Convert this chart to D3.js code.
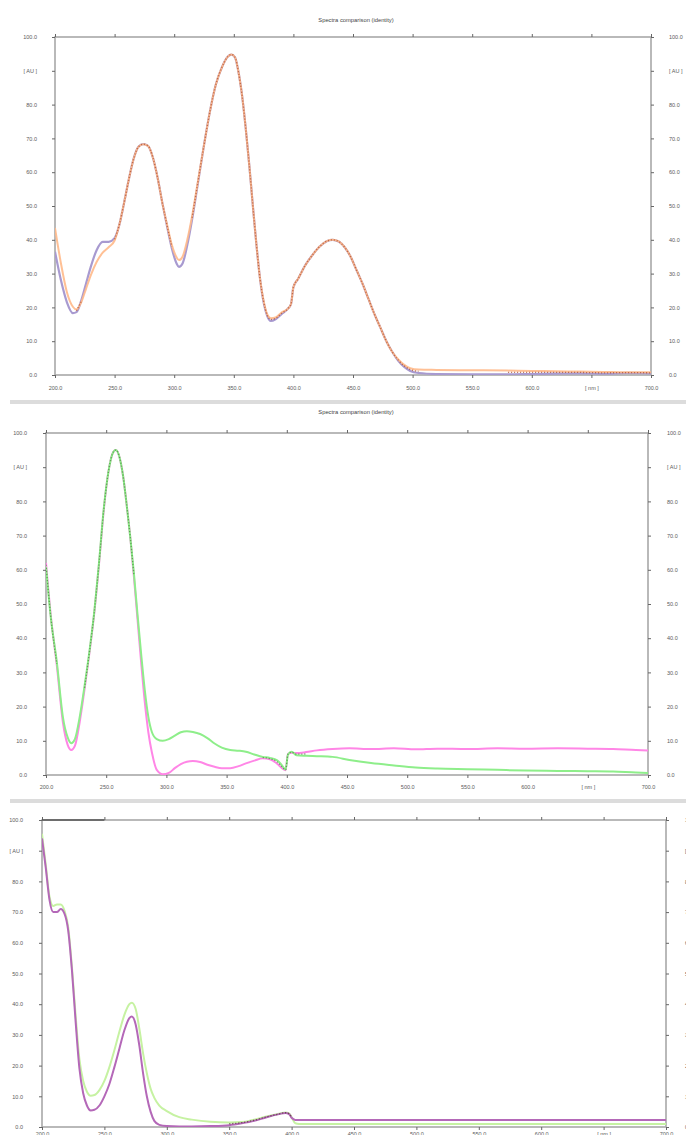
<!DOCTYPE html>
<html><head><meta charset="utf-8">
<script src="https://cdn.jsdelivr.net/npm/d3@7"></script>
<style>body{margin:0;background:#fff}svg{display:block}text{font-family:"Liberation Sans",Arial,sans-serif}</style>
</head><body>
<svg id="c" width="686" height="1135"></svg>
<script>
const chartTitle = "Spectra comparison (identity)";
const xTickValues = [200,250,300,350,400,450,500,550,600,650,700];
const xTickLabels = ["200.0","250.0","300.0","350.0","400.0","450.0","500.0","550.0","600.0","[ nm ]","700.0"];
const yTickValues = [0,10,20,30,40,50,60,70,80,90,100];
const yTickLabels = ["0.0","10.0","20.0","30.0","40.0","50.0","60.0","70.0","80.0","[ AU ]","100.0"];

// Panel 1
const p1Wl = [200,205,210,215,218,222,226,230,235,240,245,250,254,258,262,266,270,274,278,282,286,290,294,298,302,304,307,311,315,320,325,330,335,340,345,348,351,354,357,360,363,366,369,372,375,378,381,385,390,395,398,400,404,410,416,422,428,433,438,443,448,453,458,463,468,473,478,483,488,493,498,505,520,550,580,600,620,640,660,680,700];
const p1Lavender = [36.5,28,21.5,18.3,18.6,22,27,32,37,39.4,39.4,40.5,44.5,51,58,64,67.5,68.3,67.8,64.5,58.5,51,44,37.5,33,32,33,38.5,46,57,68,78,86,91,94.2,94.8,94,89.5,82.5,73,62,50,38.5,28.5,21.5,17.5,16,16.5,18,19.5,21,26,28.5,32.5,35.5,38,39.6,40,39.5,37.8,35,31,27,22.5,18,14,10,6.8,4.2,2.4,1.2,0.6,0.3,0.2,0.2,0.3,0.4,0.5,0.4,0.6,0.5];
const p1Peach = [43.5,33,24.5,20.2,19.4,21.5,25.5,29.5,33.5,36.2,37.8,39.8,44.5,51,58,64,67.5,68.3,67.8,64.5,58.5,51,44.5,38.5,34.8,34,35,40,47,57.5,68,78,86,91,94.2,94.8,94,89.5,82.5,73,62,50,38.5,28.5,22,18,16.8,17,18.5,19.5,21,26,28.5,32.5,35.5,38,39.6,40,39.5,37.8,35,31,27,22.5,18,14,10,6.8,4.6,3,2,1.6,1.5,1.4,1.3,1.2,1.1,1.0,0.9,0.8,0.8];

// Panel 2
const p2Wl = [200,204,209,214,218,221,224,228,232,236,240,244,248,252,256,258,261,264,267,270,273,276,279,282,285,288,292,297,302,307,312,317,322,328,334,340,346,353,360,366,373,380,386,392,396,399,401,404,408,416,425,438,452,470,489,507,525,550,575,598,625,650,671,690,700];
const p2Green = [60.9,46,33,17,11,9.3,10.5,17,26,36,47.5,62,78,89,94.5,95,93,87.5,79,69.5,59,47,35.5,25,17,12.5,10.5,10,10.5,11.5,12.5,12.8,12.6,12,10.8,9.2,8,7.3,7.1,6.8,6,5.3,5,4.3,2.8,1.6,6,6.8,5.8,5.6,5.5,5.3,4.4,3.5,2.8,2.2,1.9,1.7,1.5,1.3,1.2,1.1,1.0,0.7,0.6];
const p2Pink = [62,46.5,32,15.5,8.8,7.3,8.5,15.5,25,35.5,47,61.5,77.5,89,94.5,95,93,87.5,79,69.5,58,45.5,33,21.5,12.5,6.5,1.5,0.2,0.6,2,3.2,3.9,4.1,3.8,3,2.4,2,2,2.6,3.4,4.2,4.9,4.6,3.3,2,1.4,6.2,6.5,6.4,6.7,7.2,7.6,7.8,7.6,7.8,7.5,7.7,7.6,7.8,7.7,7.8,7.7,7.6,7.3,7.2];

// Panel 3
const p3Wl = [200,203,206,209,212,215,218,221,224,227,230,233,236,239,242,246,250,254,258,262,266,270,272,275,278,281,284,287,290,294,300,310,320,335,350,360,370,380,390,395,398,400,403,406,450,500,550,600,650,700];
const p3Purple = [94,84.5,74,70,70,71,69.5,64,51,34,19,11,7,5.4,5.6,7,10,14,19.5,25.5,31.5,35.5,36,33.5,26.5,17.5,10,5,2,0.7,0.3,0.2,0.2,0.3,0.6,1.2,2,3.2,4.2,4.6,4.2,3,2.3,2.3,2.3,2.3,2.3,2.3,2.3,2.3];
const p3Green = [95.5,85.5,75,72,72.5,72.5,70.5,65,52,36,22,15,11.5,10.2,10.4,12,15,19.5,25,31,36.5,40,40.5,38.5,32,24,17.5,12.5,9.5,7,5.2,3.2,2.4,1.7,1.5,1.6,2.4,3.4,4.3,4.7,4.4,3.2,1.2,1.0,1.0,1.0,1.0,1.0,1.0,1.0];
const p3TopTraceWl = [200,250];
const p3TopTraceVal = [100,100];

const svg = d3.select("#c");

function drawPanel(o){
  const g = svg.append("g");
  const x = d3.scaleLinear().domain([200,700]).range([o.left,o.right]);
  const y = d3.scaleLinear().domain([0,100]).range([o.bottom,o.top]);
  if (o.title) {
    g.append("text").attr("x", o.titleX).attr("y", o.titleY).attr("text-anchor","middle")
      .attr("font-size",5.8).attr("fill","#444").text(o.title);
  }
  g.append("rect").attr("x",o.left).attr("y",o.top).attr("width",o.right-o.left).attr("height",o.bottom-o.top)
    .attr("fill","none").attr("stroke","#a8a8a8").attr("stroke-width",1.6);
  const styleAxis = sel => {
    sel.select(".domain").remove();
    sel.selectAll(".tick line").attr("stroke","#666").attr("stroke-width",1);
    sel.selectAll(".tick text").attr("font-size",5.5).attr("fill","#5a5a5a").attr("font-family",'"Liberation Sans",Arial,sans-serif');
  };
  g.append("g").attr("transform",`translate(${o.left},0)`)
    .call(d3.axisLeft(y).tickValues(yTickValues).tickFormat((d,i)=>yTickLabels[i]).tickSize(3).tickPadding(o.lPad)).call(styleAxis);
  g.append("g").attr("transform",`translate(${o.right},0)`)
    .call(d3.axisRight(y).tickValues(yTickValues).tickFormat((d,i)=>yTickLabels[i]).tickSize(3).tickPadding(o.rPad)).call(styleAxis);
  g.append("g").attr("transform",`translate(0,${o.bottom})`)
    .call(d3.axisBottom(x).tickValues(xTickValues).tickFormat((d,i)=>xTickLabels[i]).tickSize(3).tickPadding(o.bPad)).call(styleAxis);
  g.append("g").attr("transform",`translate(0,${o.top})`)
    .call(d3.axisTop(x).tickValues(xTickValues).tickFormat("").tickSize(3)).call(styleAxis);

  const clipId = "clip"+o.id;
  svg.append("clipPath").attr("id",clipId).append("rect")
    .attr("x",o.left).attr("y",o.top-1).attr("width",o.right-o.left).attr("height",o.bottom-o.top+1);
  const pg = g.append("g").attr("clip-path",`url(#${clipId})`);
  const line = d3.line().x(d=>x(d[0])).y(d=>y(d[1])).curve(d3.curveMonotoneX);
  o.series.forEach(s=>{
    const data = s.wl.map((w,i)=>[w,s.vals[i]]);
    pg.append("path").datum(data).attr("d",line).attr("fill","none")
      .attr("stroke",s.color).attr("stroke-width",s.width).attr("stroke-opacity",s.opacity||1)
      .attr("stroke-linejoin","round");
  });
  if (o.overlay) {
    const a = o.series[0], b = o.series[1];
    const data = a.wl.map((w,i)=>[w,(a.vals[i]+b.vals[i])/2, Math.abs(a.vals[i]-b.vals[i])]);
    const ol = d3.line().defined(d=>d[2] < o.overlay.tol).x(d=>x(d[0])).y(d=>y(d[1])).curve(d3.curveMonotoneX);
    pg.append("path").datum(data).attr("d",ol).attr("fill","none")
      .attr("stroke",o.overlay.color).attr("stroke-width",1.3).attr("stroke-dasharray","1.2,1.8")
      .attr("stroke-opacity",o.overlay.opacity);
  }
  if (o.extra) {
    o.extra.forEach(s=>{
      const data = s.wl.map((w,i)=>[w,s.vals[i]]);
      g.append("path").datum(data).attr("d",d3.line().x(d=>x(d[0])).y(d=>y(d[1]))).attr("fill","none")
        .attr("stroke",s.color).attr("stroke-width",s.width);
    });
  }
}

svg.append("rect").attr("x",10).attr("y",400).attr("width",676).attr("height",4).attr("fill","#dcdcdc");
svg.append("rect").attr("x",10).attr("y",799).attr("width",676).attr("height",4).attr("fill","#dcdcdc");

drawPanel({id:1,left:55,right:651,top:37,bottom:375,title:chartTitle,titleX:356,titleY:22,lPad:15,rPad:15,bPad:8,
  series:[{wl:p1Wl,vals:p1Lavender,color:"#a89ad0",width:2.2},{wl:p1Wl,vals:p1Peach,color:"#ffb98a",width:2,opacity:0.9}],
  overlay:{color:"#a8482a",opacity:0.7,tol:1.2}});
drawPanel({id:2,left:46,right:648,top:433,bottom:775,title:chartTitle,titleX:356,titleY:414,lPad:16,rPad:16,bPad:7,
  series:[{wl:p2Wl,vals:p2Pink,color:"#ff86e6",width:2},{wl:p2Wl,vals:p2Green,color:"#8eee8a",width:2}],
  overlay:{color:"#3c6e30",opacity:0.6,tol:1.2}});
drawPanel({id:3,left:42,right:666,top:820,bottom:1127,lPad:16,rPad:16,bPad:2,
  series:[{wl:p3Wl,vals:p3Green,color:"#c6f2a2",width:2},{wl:p3Wl,vals:p3Purple,color:"#b468b8",width:2}],
  overlay:{color:"#4a3c22",opacity:0.7,tol:1.0},
  extra:[{wl:p3TopTraceWl,vals:p3TopTraceVal,color:"#555",width:1.4}]});
</script>
</body></html>
